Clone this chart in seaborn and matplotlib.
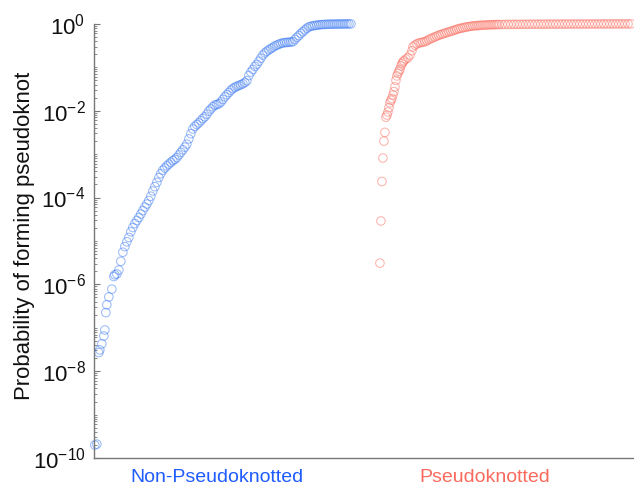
import numpy as np
import pandas as pd
import seaborn as sns
import matplotlib
matplotlib.use("Agg")
import matplotlib.pyplot as plt
from matplotlib.ticker import LogLocator, FixedLocator, NullFormatter

# ---- data: rank along the x axis and log10 probability ----
blue_rank = [1, 3, 5, 6, 8, 10, 11, 12, 13, 15, 18, 20, 21, 23, 25, 27,
             29, 31, 33, 35, 37, 39, 41, 43, 45, 47, 49, 51, 53, 55, 57, 59, 61, 63, 65, 67,
             69, 71, 73, 75, 77, 79, 81, 83, 85, 87, 89, 91, 93, 95, 97, 99, 101, 103, 105,
             107, 109, 111, 113, 115, 117, 119, 121, 123, 125, 127, 129, 131, 133, 135, 137,
             139, 141, 143, 145, 147, 149, 151, 153, 155, 157, 159, 161, 163, 165, 167, 169,
             171, 173, 175, 177, 179, 181, 183, 185, 187, 189, 191, 193, 195, 197, 199, 201,
             203, 205, 207, 209, 211, 213, 215, 217, 219, 221, 223, 225, 227, 229, 231, 233,
             235, 237, 239, 241, 243, 245, 247, 249, 251, 253, 255, 257]
blue_log10p = [-9.70, -9.68, -7.57, -7.51, -7.37, -7.19, -7.05, -6.65, -6.47, -6.29, -6.11,
               -5.82, -5.78, -5.76, -5.67, -5.47,
               -5.26, -5.13, -5.02, -4.92, -4.79, -4.69, -4.60, -4.53, -4.46, -4.38, -4.30,
               -4.22, -4.15, -4.07, -3.97, -3.85, -3.75, -3.65, -3.54, -3.45,
               -3.37, -3.32, -3.27, -3.23, -3.19, -3.15, -3.12, -3.08, -3.02, -2.96, -2.90,
               -2.84, -2.77, -2.65, -2.53, -2.42, -2.36, -2.32, -2.28,
               -2.23, -2.18, -2.14, -2.08, -2.01, -1.96, -1.91, -1.87, -1.86, -1.84, -1.80,
               -1.74, -1.68, -1.63, -1.58, -1.53,
               -1.49, -1.46, -1.44, -1.42, -1.40, -1.38, -1.35, -1.31, -1.19, -1.11, -1.05,
               -0.98, -0.93, -0.86, -0.79, -0.72,
               -0.67, -0.63, -0.60, -0.57, -0.54, -0.51, -0.49, -0.47, -0.45, -0.44, -0.43,
               -0.43, -0.42, -0.42, -0.41, -0.36,
               -0.31, -0.27, -0.22, -0.18, -0.14, -0.10, -0.07, -0.055, -0.045, -0.037,
               -0.030, -0.024, -0.019, -0.015, -0.012, -0.010,
               -0.008, -0.007, -0.006, -0.005, -0.004, -0.0035, -0.003, -0.0025, -0.002,
               -0.0015, -0.001, -0.0005]

red_rank = [286, 287, 288, 289, 290, 291, 292, 293, 294, 295, 296, 297, 298, 299, 300,
            301, 302, 303, 304, 305, 306, 307, 308, 309, 310, 312, 314, 316, 318, 319,
            321, 323, 325, 327, 329, 331, 333, 335, 337, 339, 341, 343, 345, 347, 349,
            351, 353, 355, 357, 359, 361, 363, 365, 367, 369, 371, 373, 375, 377, 379,
            381, 383, 385, 387, 389, 391, 393, 395, 397, 399, 401, 403, 405,
            408, 411, 414, 417, 420, 423, 426, 429, 432, 435, 438, 441, 444, 447, 450,
            453, 456, 459, 462, 465, 468, 471, 474, 477, 480, 483, 486, 489, 492, 495,
            498, 501, 504, 507, 510, 513, 516, 519, 522, 525, 528, 531, 534, 537]
red_log10p = [-5.51, -4.54, -3.63, -3.09, -2.70, -2.50, -2.15, -2.10, -2.03, -1.93, -1.82,
              -1.76, -1.72, -1.64, -1.56,
              -1.45, -1.30, -1.20, -1.14, -1.09, -1.05, -0.97, -0.92, -0.88, -0.85, -0.81,
              -0.78, -0.72, -0.62, -0.53,
              -0.49, -0.46, -0.44, -0.43, -0.42, -0.41, -0.39, -0.36, -0.34, -0.32, -0.30,
              -0.28, -0.26, -0.245, -0.23,
              -0.215, -0.20, -0.185, -0.17, -0.155, -0.14, -0.125, -0.11, -0.10, -0.09,
              -0.08, -0.07, -0.062, -0.055, -0.049,
              -0.044, -0.040, -0.036, -0.033, -0.030, -0.027, -0.025, -0.023, -0.021,
              -0.019, -0.017, -0.016, -0.015,
              -0.014, -0.013, -0.012, -0.0115, -0.011, -0.0105, -0.010, -0.0095, -0.009,
              -0.0085, -0.008, -0.0077, -0.0074, -0.0071, -0.0068,
              -0.0065, -0.0062, -0.0059, -0.0056, -0.0053, -0.0050, -0.0047, -0.0044,
              -0.0042, -0.0040, -0.0038, -0.0036, -0.0034, -0.0032, -0.0030,
              -0.0028, -0.0026, -0.0024, -0.0022, -0.0020, -0.0018, -0.0016, -0.0014,
              -0.0012, -0.0010, -0.0008, -0.0006, -0.0004, -0.0002]

group_labels = ["Non-Pseudoknotted", "Pseudoknotted"]
group_label_pos = [123, 391]
blue_color = "#3a78f2"
red_color = "#fa6a5c"

df = pd.concat([
    pd.DataFrame({"rank": blue_rank, "prob": 10.0 ** np.array(blue_log10p), "group": group_labels[0]}),
    pd.DataFrame({"rank": red_rank, "prob": 10.0 ** np.array(red_log10p), "group": group_labels[1]}),
])

sns.set_style("white")
plt.rcParams["font.family"] = ["Liberation Sans", "DejaVu Sans"]

fig = plt.figure(figsize=(6.34, 4.87), dpi=100)
ax = fig.add_axes([0.148, 0.0595, 0.852, 0.8915])

for g, col in zip(group_labels, [blue_color, red_color]):
    sns.scatterplot(data=df[df["group"] == g], x="rank", y="prob", color=col,
                    s=38, marker="o", linewidth=0.75, alpha=0.5, ax=ax, legend=False,
                    clip_on=False)

for coll, col in zip(ax.collections, [blue_color, red_color]):
    coll.set_facecolor("none")
    coll.set_edgecolor(col)

ax.set_yscale("log")
ax.set_ylim(1e-10, 1e0)
ax.set_xlim(0, 540)

ax.yaxis.set_major_locator(FixedLocator([1e-10, 1e-8, 1e-6, 1e-4, 1e-2, 1e0]))
ax.yaxis.set_minor_locator(LogLocator(base=10, subs=np.arange(1, 10), numticks=30))
ax.yaxis.set_minor_formatter(NullFormatter())
ax.tick_params(axis="y", which="both", left=True)
ax.tick_params(axis="y", which="major", direction="in", length=4, width=0.8,
               color="#777777", labelsize=16, pad=6, labelcolor="#111111")
ax.tick_params(axis="y", which="minor", direction="in", length=2.5, width=0.6,
               color="#777777")

ax.set_xticks(group_label_pos)
ax.set_xticklabels(group_labels, fontsize=14)
ax.tick_params(axis="x", length=0, pad=8)
for lab, col in zip(ax.get_xticklabels(), ["#1f5cff", "#fa6a5c"]):
    lab.set_color(col)

ax.set_xlabel("")
ax.set_ylabel("Probability of forming pseudoknot", fontsize=15.9, color="#111111")
ax.yaxis.set_label_coords(-0.109, 0.512)

for s in ["top", "right"]:
    ax.spines[s].set_visible(False)
for s in ["left", "bottom"]:
    ax.spines[s].set_color("#777777")
    ax.spines[s].set_linewidth(1.0)

fig.savefig("out.png", dpi=100)
